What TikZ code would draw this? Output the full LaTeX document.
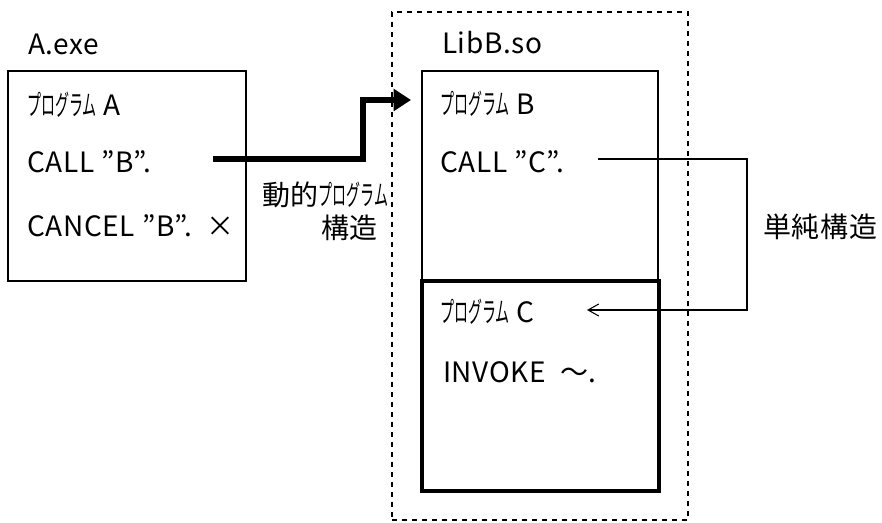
\documentclass[tikz,border=0pt]{standalone}
\usepackage{fontspec}
\setmainfont[LetterSpace=2.5]{Noto Sans CJK JP}
\newfontfamily\hk[FakeStretch=0.5]{Noto Sans CJK JP}
\usetikzlibrary{arrows.meta}
\begin{document}
\begin{tikzpicture}[x=0.75pt,y=-0.75pt,
  txt/.style={anchor=base west,inner sep=0pt,outer sep=0pt,font=\fontsize{21}{25}\selectfont},
  frame/.style={draw,line width=1.1pt,anchor=north west,inner sep=0pt,outer sep=0pt},
  thickframe/.style={draw,line width=2.4pt,anchor=north west,inner sep=0pt,outer sep=0pt},
  libframe/.style={draw,line width=0.9pt,dash pattern=on 4pt off 3.5pt,anchor=north west,inner sep=0pt,outer sep=0pt},
  dynarrow/.style={line width=3.8pt,line join=miter,-{Triangle[length=13pt,width=16pt]}},
  simplearrow/.style={line width=0.8pt,-{Straight Barb[length=8pt,width=9pt]}}]
\useasboundingbox (0,0) rectangle (882,523);
% frames
\node[frame,minimum width=178.5pt,minimum height=157.5pt] (boxA) at (8,71) {};
\node[libframe,minimum width=222pt,minimum height=381pt] (lib) at (392,12) {};
\node[frame,minimum width=177pt,minimum height=156.75pt] (boxB) at (422,71) {};
\node[thickframe,minimum width=177.75pt,minimum height=157.5pt] (boxC) at (422,281) {};
% texts
\node[txt] (aexe) at (28,55) {A.exe};
\node[txt] (pa) at (27,116) {{\hk プログラム}\ A};
\node[txt] (callb) at (27,173) {CALL ”B”.};
\node[txt] (cancelb) at (27,237) {CANCEL ”B”.\ \ ×};
\node[txt] (libb) at (442,54) {LibB.so};
\node[txt] (pb) at (440,115) {{\hk プログラム}\ B};
\node[txt] (callc) at (440,173) {CALL ”C”.};
\node[txt] (pc) at (440,323) {{\hk プログラム}\ C};
\node[txt] (invoke) at (443,383) {INVOKE\ \ ～.};
\node[txt,anchor=west] (dyn1) at (262,195) {動的{\hk プログラム}};
\node[txt,anchor=east] (dyn2) at (378,228) {構造};
\node[txt,anchor=west] (simple) at (763,227) {単純構造};
% connectors
\coordinate (dynstart) at (213,159);
\coordinate (dynend) at (411,100);
\coordinate (simstart) at (598,159);
\coordinate (simend) at (587,310);
\draw[dynarrow] (dynstart) -- (363,159) |- (dynend);
\draw[simplearrow] (simstart) -- (747,159) |- (simend);
\end{tikzpicture}
\end{document}
